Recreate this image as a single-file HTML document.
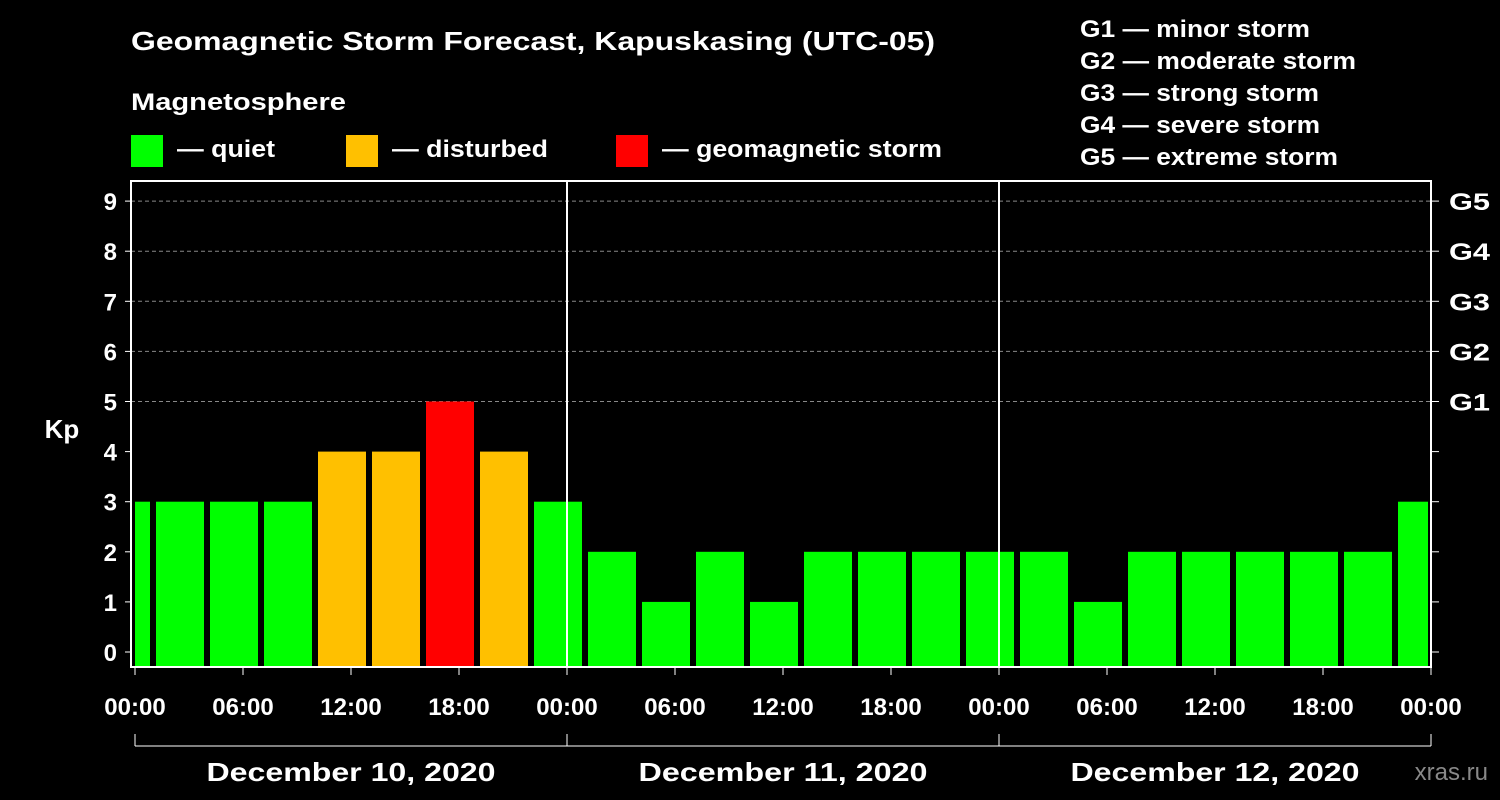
<!DOCTYPE html>
<html><head><meta charset="utf-8"><style>
html,body{margin:0;padding:0;background:#000;}
svg{display:block;font-family:"Liberation Sans",Arial,sans-serif;font-weight:bold;}
</style></head><body>
<svg id="chart" width="1500" height="800" viewBox="0 0 1500 800">
<rect x="0" y="0" width="1500" height="800" fill="#000"/>
<text x="131" y="50" font-size="26" fill="#fff" textLength="804" lengthAdjust="spacingAndGlyphs">Geomagnetic Storm Forecast, Kapuskasing (UTC-05)</text>
<text x="131" y="110" font-size="24" fill="#fff" textLength="215" lengthAdjust="spacingAndGlyphs">Magnetosphere</text>
<g><rect x="131" y="135" width="32" height="32" fill="#00ff00"/><text x="177" y="157" font-size="24" fill="#fff" textLength="98" lengthAdjust="spacingAndGlyphs">— quiet</text></g>
<g><rect x="346" y="135" width="32" height="32" fill="#ffc000"/><text x="392" y="157" font-size="24" fill="#fff" textLength="156" lengthAdjust="spacingAndGlyphs">— disturbed</text></g>
<g><rect x="616" y="135" width="32" height="32" fill="#ff0000"/><text x="662" y="157" font-size="24" fill="#fff" textLength="280" lengthAdjust="spacingAndGlyphs">— geomagnetic storm</text></g>
<g font-size="24" fill="#fff">
<text x="1080" y="37" textLength="230" lengthAdjust="spacingAndGlyphs">G1 — minor storm</text>
<text x="1080" y="69" textLength="276" lengthAdjust="spacingAndGlyphs">G2 — moderate storm</text>
<text x="1080" y="101" textLength="239" lengthAdjust="spacingAndGlyphs">G3 — strong storm</text>
<text x="1080" y="133" textLength="240" lengthAdjust="spacingAndGlyphs">G4 — severe storm</text>
<text x="1080" y="165" textLength="258" lengthAdjust="spacingAndGlyphs">G5 — extreme storm</text>
</g>
<text x="62" y="438" font-size="26" fill="#fff" text-anchor="middle">Kp</text>
<g id="grid"></g><g id="bars"></g><g id="axes"></g>
<text x="1488" y="780" font-size="24" fill="#888" text-anchor="end" font-weight="normal">xras.ru</text>
</svg>
<script>
const kpValues = [3,3,3,3,4,4,5,4,3,2,1,2,1,2,2,2,2,2,1,2,2,2,2,2,3];
const startHour = -2;
const intervalHours = 3;
const dayLabels = ["December 10, 2020","December 11, 2020","December 12, 2020"];
const timeTickLabels = ["00:00","06:00","12:00","18:00"];
const gLabels = ["G1","G2","G3","G4","G5"];

const NS="http://www.w3.org/2000/svg";
const L=131,R=1431,T=181,B=667,X0=135,pxPerHour=18;
const x=h=>X0+h*pxPerHour;
const y=v=>652-v*50.1;
function mk(tag,attrs,parent){const e=document.createElementNS(NS,tag);for(const k in attrs)e.setAttribute(k,attrs[k]);parent.appendChild(e);return e;}
const grid=document.getElementById('grid'),bars=document.getElementById('bars'),axes=document.getElementById('axes');
for(let v=5;v<=9;v++){
  const g=mk('line',{x1:L,x2:R,y1:y(v),y2:y(v),stroke:'#888','stroke-dasharray':'4,3','stroke-width':1},grid);
  
  
}
const nDays=dayLabels.length;
kpValues.forEach((v,i)=>{
  let h0=startHour+i*intervalHours, h1=h0+intervalHours;
  let a=Math.max(x(h0)+3,x(0)), b=Math.min(x(h1)-3,x(24*nDays)-3);
  if(b<=a) return;
  const col=v>=5?'#ff0000':(v>=4?'#ffc000':'#00ff00');
  const r=mk('rect',{x:a,y:y(v),width:b-a,height:B-y(v),fill:col},bars);
  
  
});
const fr=mk('rect',{x:L,y:T,width:R-L,height:B-T,fill:'none',stroke:'#fff','stroke-width':2},axes);


for(let d=1;d<nDays;d++){
  const dl=mk('line',{x1:x(24*d),x2:x(24*d),y1:T,y2:B,stroke:'#fff','stroke-width':2},axes);
  
  
}
for(let v=0;v<=9;v++){
  mk('line',{x1:L-6,x2:L,y1:y(v),y2:y(v),stroke:'#fff','stroke-width':1},axes);
  mk('line',{x1:R,x2:R+8,y1:y(v),y2:y(v),stroke:'#fff','stroke-width':1},axes);
  const t=mk('text',{x:L-14,y:y(v)+9,'font-size':24,fill:'#fff','text-anchor':'end'},axes);
  t.textContent=v;
  
  
}
gLabels.forEach((g,i)=>{
  const t=mk('text',{x:1449,y:y(5+i)+9,'font-size':24,fill:'#fff',textLength:41,lengthAdjust:'spacingAndGlyphs'},axes);
  t.textContent=g;
  
  
});
for(let h=0;h<=24*nDays;h+=6){
  mk('line',{x1:x(h),x2:x(h),y1:B,y2:B+8,stroke:'#fff','stroke-width':1},axes);
  const t=mk('text',{x:x(h),y:715,'font-size':24,fill:'#fff','text-anchor':'middle'},axes);
  t.textContent=timeTickLabels[(h/6)%4];
  
  
}
mk('line',{x1:x(0),x2:x(24*nDays),y1:746,y2:746,stroke:'#fff','stroke-width':1},axes);
for(let d=0;d<=nDays;d++) mk('line',{x1:x(24*d),x2:x(24*d),y1:734,y2:746,stroke:'#fff','stroke-width':1},axes);
dayLabels.forEach((s,d)=>{
  const t=mk('text',{x:x(24*d+12),y:781,'font-size':26,fill:'#fff','text-anchor':'middle',textLength:289,lengthAdjust:'spacingAndGlyphs'},axes);
  t.textContent=s;
  
  
});
</script>
</body></html>
